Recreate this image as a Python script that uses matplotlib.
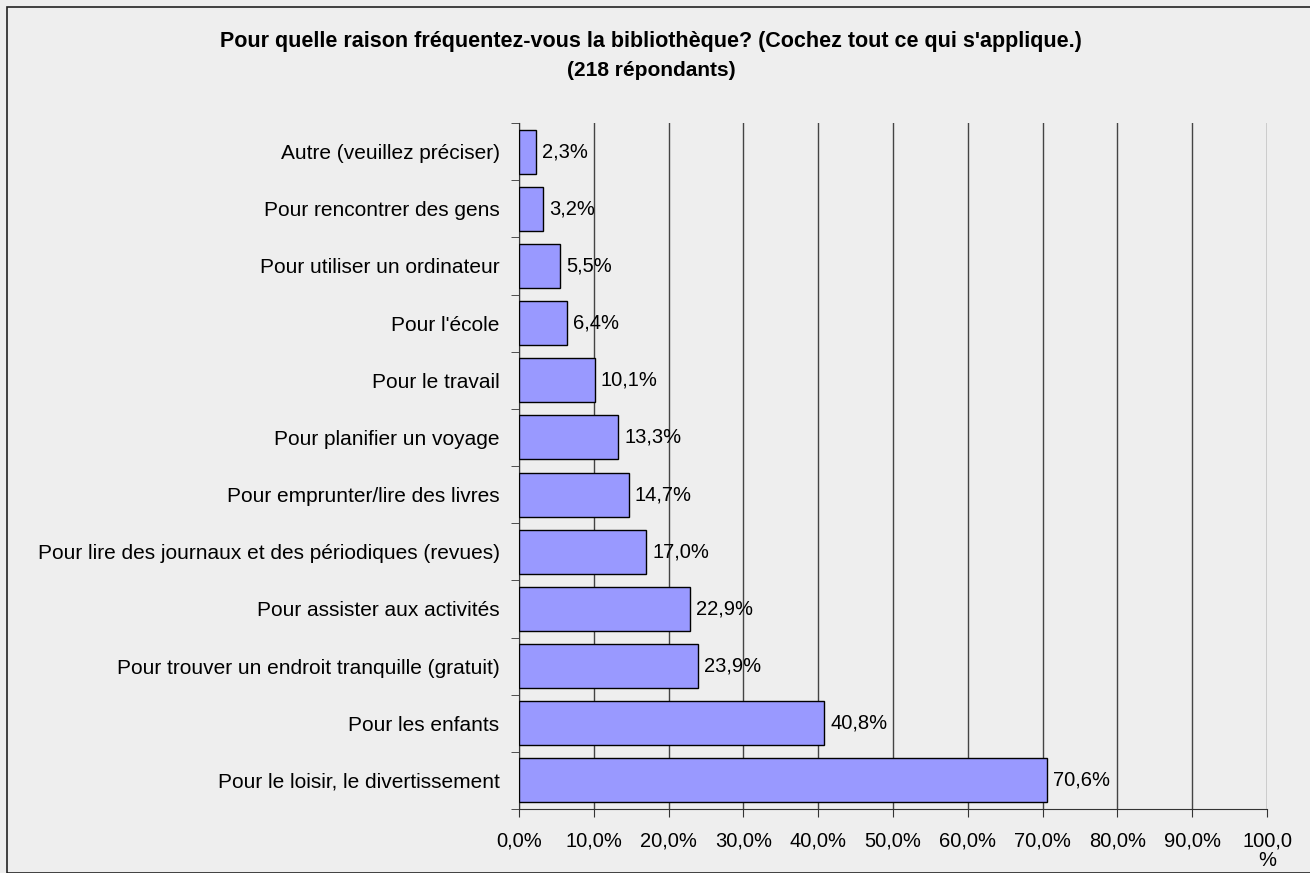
import matplotlib.pyplot as plt
from matplotlib.patches import Rectangle

plt.rcParams['font.family'] = ['Liberation Sans', 'DejaVu Sans']

categories = [
    "Pour le loisir, le divertissement",
    "Pour les enfants",
    "Pour trouver un endroit tranquille (gratuit)",
    "Pour assister aux activités",
    "Pour lire des journaux et des périodiques (revues)",
    "Pour emprunter/lire des livres",
    "Pour planifier un voyage",
    "Pour le travail",
    "Pour l'école",
    "Pour utiliser un ordinateur",
    "Pour rencontrer des gens",
    "Autre (veuillez préciser)",
]
values = [70.6, 40.8, 23.9, 22.9, 17.0, 14.7, 13.3, 10.1, 6.4, 5.5, 3.2, 2.3]
xticks = [0, 10, 20, 30, 40, 50, 60, 70, 80, 90, 100]
xtick_labels = ["0,0%", "10,0%", "20,0%", "30,0%", "40,0%", "50,0%", "60,0%",
                "70,0%", "80,0%", "90,0%", "100,0\n%"]

bg = "#eeeeee"
fig = plt.figure(figsize=(13.1, 8.73), dpi=100, facecolor=bg)
fig.patches.append(Rectangle((7 / 1310, 0), 1.0, 1 - 7 / 873, transform=fig.transFigure,
                             facecolor="none", edgecolor="#222222", linewidth=1.2))
ax = fig.add_axes([519 / 1310, 1 - 809 / 873, (1267 - 519) / 1310, (809 - 123) / 873])
ax.set_facecolor(bg)

y = range(len(categories))
ax.barh(y, values, height=0.77, color="#9999ff", edgecolor="black", linewidth=1.0, zorder=3)
for i, v in enumerate(values):
    ax.text(v + 0.8, i, f"{v:.1f}%".replace(".", ","), va="center", ha="left", fontsize=14.5, zorder=4)

ax.set_xlim(0, 100)
ax.set_ylim(-0.5, len(categories) - 0.5)
ax.set_xticks(xticks)
ax.set_xticklabels(xtick_labels, fontsize=14.5, va="top", linespacing=1.05)
ax.set_yticks(list(y))
ax.set_yticklabels(categories, fontsize=15)
ax.set_yticks([i - 0.5 for i in range(len(categories) + 1)], minor=True)
ax.tick_params(axis="y", which="major", length=0, pad=14)
ax.tick_params(axis="y", which="minor", length=6, direction="out", color="#333333")
ax.tick_params(axis="x", length=6, direction="out", color="#333333", pad=10)
ax.xaxis.grid(True, color="#444444", linewidth=1.0, zorder=0)
for s in ["top", "right"]:
    ax.spines[s].set_visible(False)
ax.spines["left"].set_color("#333333")
ax.spines["bottom"].set_color("#333333")

fig.text(651 / 1310, 1 - 42 / 873, "Pour quelle raison fréquentez-vous la bibliothèque? (Cochez tout ce qui s'applique.)",
         ha="center", va="center", fontsize=15.5, fontweight="bold")
fig.text(651 / 1310, 1 - 70 / 873, "(218 répondants)", ha="center", va="center", fontsize=15, fontweight="bold")

plt.savefig("out.png", dpi=100, facecolor=bg)
